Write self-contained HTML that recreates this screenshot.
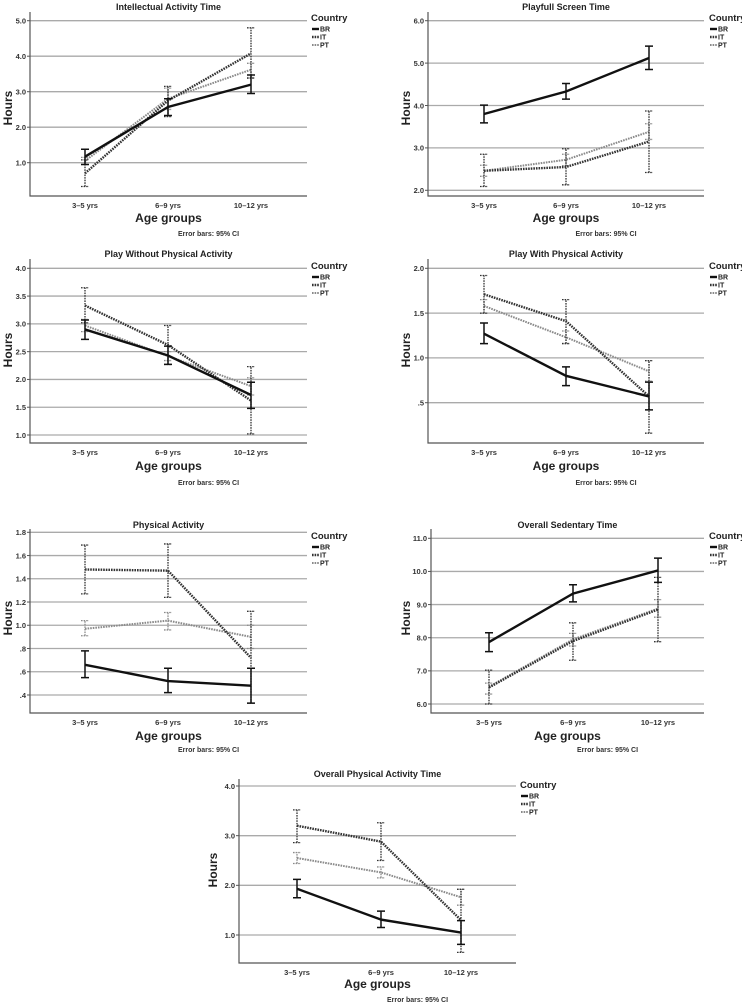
<!DOCTYPE html>
<html><head><meta charset="utf-8"><style>
body{margin:0;background:#fff;}
svg{display:block;font-family:"Liberation Sans",sans-serif;}
</style></head><body>
<svg id="chart" width="742" height="1005" viewBox="0 0 742 1005"></svg>
<script>
const categories = ["3–5 yrs","6–9 yrs","10–12 yrs"];
const countries = ["BR","IT","PT"];
// [mean, lower CI, upper CI]
const p1BR=[[1.17,0.95,1.38],[2.57,2.33,2.80],[3.20,2.95,3.47]];
const p1IT=[[0.70,0.33,1.08],[2.75,2.30,3.15],[4.08,3.38,4.80]];
const p1PT=[[1.05,0.95,1.15],[2.80,2.50,3.10],[3.62,3.40,3.80]];
const p2BR=[[3.80,3.59,4.01],[4.33,4.15,4.52],[5.12,4.85,5.40]];
const p2IT=[[2.46,2.09,2.85],[2.55,2.13,2.98],[3.15,2.42,3.87]];
const p2PT=[[2.46,2.33,2.59],[2.72,2.58,2.85],[3.38,3.20,3.57]];
const p3BR=[[2.90,2.72,3.07],[2.43,2.27,2.60],[1.72,1.48,1.95]];
const p3IT=[[3.33,3.02,3.65],[2.62,2.27,2.97],[1.62,1.02,2.23]];
const p3PT=[[2.97,2.86,3.08],[2.42,2.34,2.50],[1.88,1.72,2.03]];
const p4BR=[[1.27,1.16,1.39],[0.80,0.69,0.90],[0.57,0.42,0.73]];
const p4IT=[[1.71,1.50,1.92],[1.41,1.16,1.65],[0.57,0.16,0.97]];
const p4PT=[[1.58,1.50,1.65],[1.23,1.16,1.30],[0.85,0.74,0.97]];
const p5BR=[[0.66,0.55,0.78],[0.52,0.42,0.63],[0.48,0.33,0.63]];
const p5IT=[[1.48,1.27,1.69],[1.47,1.24,1.70],[0.72,0.33,1.12]];
const p5PT=[[0.97,0.91,1.04],[1.04,0.96,1.11],[0.90,0.80,1.00]];
const p6BR=[[7.87,7.58,8.15],[9.33,9.08,9.60],[10.03,9.67,10.40]];
const p6IT=[[6.50,6.00,7.02],[7.90,7.32,8.45],[8.85,7.88,9.82]];
const p6PT=[[6.52,6.30,6.63],[7.95,7.75,8.13],[8.88,8.62,9.15]];
const p7BR=[[1.93,1.75,2.12],[1.31,1.15,1.48],[1.05,0.81,1.29]];
const p7IT=[[3.20,2.86,3.52],[2.88,2.50,3.26],[1.30,0.65,1.92]];
const p7PT=[[2.55,2.44,2.66],[2.26,2.15,2.37],[1.76,1.60,1.92]];
const ticks1=["1.0","2.0","3.0","4.0","5.0"];
const ticks2=["2.0","3.0","4.0","5.0","6.0"];
const ticks3=["1.0","1.5","2.0","2.5","3.0","3.5","4.0"];
const ticks4=[".5","1.0","1.5","2.0"];
const ticks5=[".4",".6",".8","1.0","1.2","1.4","1.6","1.8"];
const ticks6=["6.0","7.0","8.0","9.0","10.0","11.0"];
const ticks7=["1.0","2.0","3.0","4.0"];
const titles=["Intellectual Activity Time","Playfull Screen Time","Play Without Physical Activity","Play With Physical Activity","Physical Activity","Overall Sedentary Time","Overall Physical Activity Time"];

// layout (not data)
const panels=[
 {t:0,d:[p1BR,p1IT,p1PT],ticks:ticks1,L:30,R:307,top:12,bot:196,v0:1,y0:162.7,v1:5,y1:20.7,cx:[85,168,251],ty:10,hx:8,hy:108,ax:218,ey:234,lx:311,ly:18},
 {t:1,d:[p2BR,p2IT,p2PT],ticks:ticks2,L:428,R:704,top:12,bot:196,v0:2,y0:190.3,v1:6,y1:20.7,cx:[484,566,649],ty:10,hx:406,hy:108,ax:218,ey:234,lx:709,ly:18},
 {t:2,d:[p3BR,p3IT,p3PT],ticks:ticks3,L:30,R:307,top:259,bot:443,v0:1,y0:435,v1:4,y1:268.3,cx:[85,168,251],ty:257,hx:8,hy:350,ax:466,ey:483,lx:311,ly:266},
 {t:3,d:[p4BR,p4IT,p4PT],ticks:ticks4,L:428,R:704,top:259,bot:443,v0:0.5,y0:402.7,v1:2,y1:268.3,cx:[484,566,649],ty:257,hx:406,hy:350,ax:466,ey:483,lx:709,ly:266},
 {t:4,d:[p5BR,p5IT,p5PT],ticks:ticks5,L:30,R:307,top:529,bot:713,v0:0.4,y0:695,v1:1.8,y1:532.3,cx:[85,168,251],ty:528,hx:8,hy:618,ax:736,ey:750,lx:311,ly:536},
 {t:5,d:[p6BR,p6IT,p6PT],ticks:ticks6,L:431,R:704,top:529,bot:713,v0:6,y0:704,v1:11,y1:538.3,cx:[489,573,658],ty:528,hx:406,hy:618,ax:736,ey:750,lx:709,ly:536},
 {t:6,d:[p7BR,p7IT,p7PT],ticks:ticks7,L:239,R:516,top:779,bot:963,v0:1,y0:935,v1:4,y1:786,cx:[297,381,461],ty:777,hx:213,hy:870,ax:984,ey:1000,lx:520,ly:785}
];
const styles=[
 {c:"#111",w:2.4,da:null},
 {c:"#333",w:2.4,da:"1.6,1"},
 {c:"#8a8a8a",w:2,da:"1.6,1"}
];
const svg=document.getElementById('chart');
const NS="http://www.w3.org/2000/svg";
function mk(tag,attrs,parent){const e=document.createElementNS(NS,tag);for(const k in attrs)e.setAttribute(k,attrs[k]);(parent||svg).appendChild(e);return e;}
panels.forEach((p,pi)=>{
 const g=mk('g',{});
 
 
 const y=v=>p.y0+(v-p.v0)*(p.y1-p.y0)/(p.v1-p.v0);
 const cxm=(p.L+p.R)/2;
 const tt=mk('text',{x:cxm,y:p.ty,'text-anchor':'middle','font-size':9,'font-weight':'bold',fill:'#222'},g);
 tt.textContent=titles[p.t];
 
 
 p.ticks.forEach(tk=>{
  const v=parseFloat(tk);const yy=y(v);
  const gl=mk('line',{x1:p.L,x2:p.R,y1:yy,y2:yy,stroke:'#aaa','stroke-width':1.3},g);
  
  
  mk('line',{x1:p.L-3,x2:p.L,y1:yy,y2:yy,stroke:'#555','stroke-width':1},g);
  const tl=mk('text',{x:p.L-4,y:yy+2.8,'text-anchor':'end','font-size':7.5,'font-weight':'bold',fill:'#333'},g);
  tl.textContent=tk;
  
  
 });
 const ax=mk('path',{d:`M${p.L},${p.top}V${p.bot}H${p.R}`,fill:'none',stroke:'#555','stroke-width':1.2},g);
 
 
 categories.forEach((c,i)=>{
  const xl=mk('text',{x:p.cx[i],y:p.bot+12,'text-anchor':'middle','font-size':7.5,'font-weight':'bold',fill:'#333'},g);
  xl.textContent=c;
  
  
 });
 const xt=mk('text',{x:cxm,y:p.ax+4,'text-anchor':'middle','font-size':12,'font-weight':'bold',fill:'#222'},g);
 xt.textContent='Age groups';
 
 
 const yt=mk('text',{x:p.hx,y:p.hy,'text-anchor':'middle','font-size':12,'font-weight':'bold',fill:'#222',transform:`rotate(-90 ${p.hx} ${p.hy})`,dy:4},g);
 yt.textContent='Hours';
 
 
 const eb=mk('text',{x:cxm+40,y:p.ey+2,'text-anchor':'middle','font-size':7,'font-weight':'bold',fill:'#333'},g);
 eb.textContent='Error bars: 95% CI';
 
 
 [2,1,0].forEach(si=>{
  const s=styles[si];const data=p.d[si];
  const sg=mk('g',{},g);
  
  
  data.forEach((d,i)=>{
   const x=p.cx[i];
   const e=mk('path',{d:`M${x-4},${y(d[1])}H${x+4}M${x},${y(d[1])}V${y(d[2])}M${x-4},${y(d[2])}H${x+4}`,fill:'none',stroke:s.c,'stroke-width':si==0?1.5:1.3,'stroke-dasharray':si==0?'none':'1.6,1'},sg);
   
   
  });
  const pts=data.map((d,i)=>p.cx[i]+','+y(d[0])).join(' ');
  const ln=mk('polyline',{points:pts,fill:'none',stroke:s.c,'stroke-width':s.w,'stroke-dasharray':s.da||'none'},sg);
  
  
 });
 const lg=mk('g',{},g);
 
 
 const lt=mk('text',{x:p.lx,y:p.ly+3,'font-size':9.5,'font-weight':'bold',fill:'#222'},lg);
 lt.textContent='Country';
 countries.forEach((c,i)=>{
  const yy=p.ly+11+i*8;const s=styles[i];
  const ll=mk('line',{x1:p.lx+1,x2:p.lx+8,y1:yy,y2:yy,stroke:s.c,'stroke-width':s.w,'stroke-dasharray':s.da||'none'},lg);
  
  
  const tx=mk('text',{x:p.lx+9,y:yy+2.5,'font-size':7,'font-weight':'bold',fill:'#222'},lg);
  tx.textContent=c;
  
  
 });
});
</script>
</body></html>
